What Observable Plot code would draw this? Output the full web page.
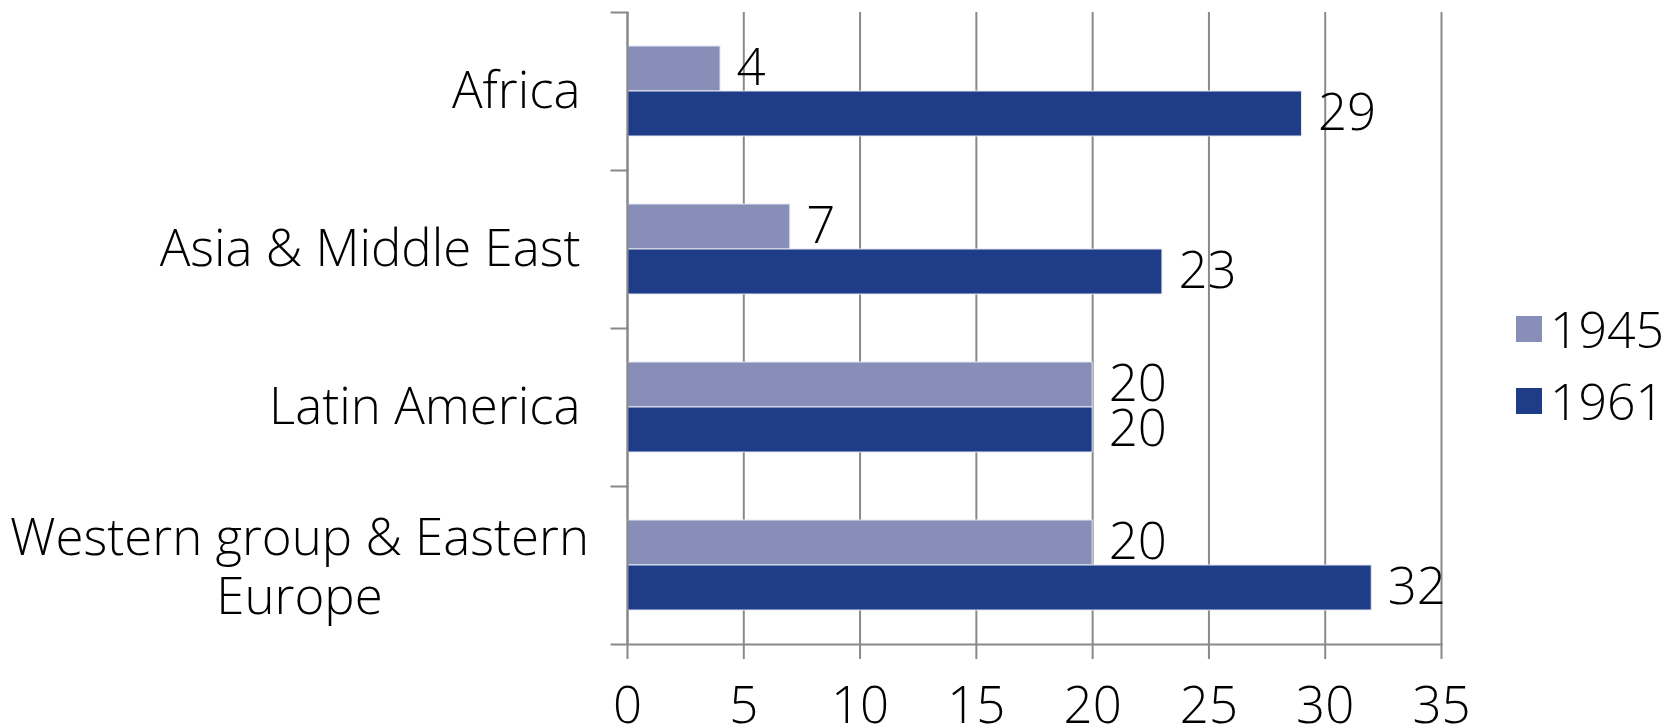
<!DOCTYPE html>
<html>
<head>
<meta charset="utf-8">
<script src="https://cdn.jsdelivr.net/npm/d3@7"></script>
<script src="https://cdn.jsdelivr.net/npm/@observablehq/plot@0.6"></script>
<style>
  html, body { margin: 0; padding: 0; background: #fff; }
  #wrap { position: relative; width: 1675px; height: 725px; font-family: "Open Sans", sans-serif; }
  #legend { position: absolute; left: 1516px; top: 300px; }
  .item { display: flex; align-items: center; height: 58px; margin-bottom: 14px; }
  .sw { width: 26px; height: 26px; margin-right: 8px; }
  .lab { font-size: 50px; color: #000; line-height: 1; font-weight: 300; }
</style>
</head>
<body>
<div id="wrap"></div>
<script>
const regions = ["Africa", "Asia & Middle East", "Latin America", "Western group & Eastern Europe"];
const regionLabels = ["Africa", "Asia & Middle East", "Latin America", "Western group & Eastern\nEurope"];
const years = ["1945", "1961"];
const values1945 = [4, 7, 20, 20];
const values1961 = [29, 23, 20, 32];
const colors = ["#878FB8", "#1E3C88"];
const xTicks = [0, 5, 10, 15, 20, 25, 30, 35];

const rows = [];
regions.forEach((r, i) => {
  rows.push({region: r, year: "1945", value: values1945[i]});
  rows.push({region: r, year: "1961", value: values1961[i]});
});

const gray = "#898989";
const fs = 51;

const chart = Plot.plot({
  width: 1675,
  height: 725,
  marginLeft: 627,
  marginRight: 234,
  marginTop: 11,
  marginBottom: 81,
  style: {fontFamily: "'Open Sans', sans-serif", fontWeight: 300, color: "#000", background: "transparent"},
  x: {domain: [0, 35], axis: null},
  y: {domain: years, paddingInner: 0, paddingOuter: 0.743, axis: null},
  fy: {domain: regions, padding: 0, axis: null},
  color: {domain: years, range: colors},
  marks: [
    Plot.gridX(xTicks, {stroke: gray, strokeOpacity: 1, strokeWidth: 2}),
    Plot.barX(rows, {fy: "region", y: "year", x: "value", fill: "year", stroke: "#E4E7F2", strokeWidth: 1}),
    Plot.ruleX([0], {stroke: gray, strokeWidth: 2}),
    Plot.frame({anchor: "top", stroke: gray, strokeWidth: 2, insetLeft: -16, insetRight: 814}),
    Plot.frame({anchor: "bottom", facet: "super", stroke: gray, strokeWidth: 2, insetLeft: -16}),
    Plot.axisX({ticks: xTicks, label: null, tickSize: 15, tickPadding: 27, stroke: gray, strokeWidth: 2, color: "#000", fontSize: fs, tickFormat: d => String(d)}),
    Plot.text(rows, {fy: "region", y: "year", x: "value", text: d => String(d.value), dx: 16, textAnchor: "start", fontSize: fs, fill: "#000"}),
    Plot.text(regions.slice(0, 3), {fy: d => d, text: (d, i) => regionLabels[i], frameAnchor: "left", dx: -47, textAnchor: "end", fontSize: fs, fill: "#000"}),
    Plot.text(regions.slice(3), {fy: d => d, text: d => regionLabels[3], frameAnchor: "left", dx: -328, textAnchor: "middle", lineHeight: 1.17, fontSize: fs, fill: "#000"})
  ]
});

const wrap = document.getElementById("wrap");
wrap.appendChild(chart);

const legend = document.createElement("div");
legend.id = "legend";
years.forEach((y, i) => {
  const item = document.createElement("div");
  item.className = "item";
  const sw = document.createElement("div");
  sw.className = "sw";
  sw.style.background = colors[i];
  const lab = document.createElement("div");
  lab.className = "lab";
  lab.textContent = y;
  item.appendChild(sw);
  item.appendChild(lab);
  legend.appendChild(item);
});
wrap.appendChild(legend);
</script>
</body>
</html>
